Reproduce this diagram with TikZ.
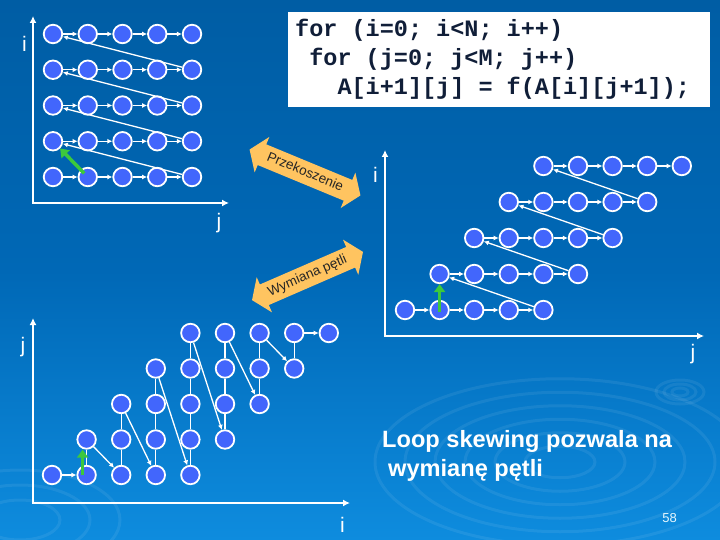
\documentclass[tikz,border=0pt]{standalone}
\usepackage{fontspec}
\setmainfont{Liberation Sans}
\newfontfamily\codefont{Liberation Mono}
\usetikzlibrary{shapes.arrows,arrows.meta}
\definecolor{bgtop}{RGB}{0,93,164}
\definecolor{bgmid}{RGB}{0,104,182}
\definecolor{bgbot}{RGB}{14,140,222}
\definecolor{cellfill}{RGB}{66,102,252}
\definecolor{depgreen}{RGB}{60,200,60}
\definecolor{arrorange}{RGB}{255,196,96}
\definecolor{codeink}{RGB}{16,30,56}
\begin{document}
\begin{tikzpicture}[x=1pt,y=-1pt,
  cell/.style={circle,draw=white,line width=1.8pt,fill=cellfill,minimum size=18.5pt,inner sep=0pt},
  flow/.style={draw=white,line width=1.3pt,-{Latex[length=5pt,width=5pt]}},
  link/.style={draw=white,line width=1.3pt},
  axis/.style={draw=white,line width=2.8pt,line cap=rect,-{Latex[length=7pt,width=7pt]}},
  dep/.style={draw=depgreen,line width=3.5pt,-{Triangle[length=8pt,width=11pt]}},
  axlabel/.style={text=white,font=\fontsize{21}{25}\selectfont,inner sep=0pt,anchor=base},
  bigarrow/.style={double arrow,fill=arrorange,draw=none,double arrow head extend=8pt,
    double arrow tip angle=110,inner xsep=2pt,inner ysep=4.5pt,text height=10pt,text depth=3pt,
    font=\fontsize{13.5}{15}\selectfont,text=black!85},
  codeline/.style={anchor=base west,inner sep=0pt,text=codeink,font=\codefont\bfseries\fontsize{23.5}{28}\selectfont}
]
\useasboundingbox (0,0) rectangle (720,540);
% background
\shade[top color=bgtop,bottom color=bgbot,middle color=bgmid] (0,0) rectangle (720,540);
\begin{scope}[white,opacity=0.07,line width=3pt]
  \foreach \rr in {35,65,95,125,155,185}
    \draw (560,462) ellipse [x radius=\rr, y radius=0.45*\rr];
  \foreach \rr in {8,16,24}
    \draw (680,392) ellipse [x radius=\rr, y radius=0.5*\rr];
  \foreach \rr in {40,70,100}
    \draw (20,520) ellipse [x radius=\rr, y radius=0.5*\rr];
\end{scope}

% code box
\node[fill=white,minimum width=422pt,minimum height=95pt,anchor=north west,inner sep=0pt] (codebox) at (288,12) {};
\node[codeline] (code1) at (295,37) {for (i=0; i<N; i++)};
\node[codeline] (code2) at (309.1,66) {for (j=0; j<M; j++)};
\node[codeline] (code3) at (337.3,95) {A[i+1][j] = f(A[i][j+1]);};

% ---------- top-left grid ----------
\coordinate (tlO) at (33,203);
\coordinate (tlI) at (33,16);
\coordinate (tlJ) at (229,203);
\draw[axis] (tlO) -- (tlJ);
\draw[axis] (tlO) -- (tlI);
\node[axlabel] (tlLi) at (24.5,52) {i};
\node[axlabel] (tlLj) at (219,229) {j};
\foreach \r in {0,...,4}
  \foreach \c in {0,...,4}
    \node[cell] (t\r\c) at ({53+34.75*\c},{177-35.75*\r}) {};
\foreach \r in {0,...,4}
  \foreach \c in {0,...,3} {
    \pgfmathtruncatemacro\nx{\c+1}
    \draw[flow] (t\r\c) -- (t\r\nx);
  }
\foreach \r in {0,...,3} {
  \pgfmathtruncatemacro\nr{\r+1}
  \draw[flow] (t\r4) -- (t\nr0);
}
\draw[dep,shorten <=5pt] (t01.center) -- (t10);

% ---------- middle arrows ----------
\node[bigarrow,rotate=-22.5,minimum height=120pt] (skew) at (305,172.5) {Przekoszenie};
\node[bigarrow,rotate=23.5,minimum height=121pt] (swap) at (307.5,276) {Wymiana pętli};

% ---------- right grid ----------
\coordinate (rgO) at (385,336);
\coordinate (rgI) at (385,150);
\coordinate (rgJ) at (704,336);
\draw[axis] (rgO) -- (rgJ);
\draw[axis] (rgO) -- (rgI);
\node[axlabel] (rgLi) at (375.5,183) {i};
\node[axlabel] (rgLj) at (693,359) {j};
\foreach \r in {0,...,4}
  \foreach \k in {0,...,4} {
    \pgfmathtruncatemacro\c{\r+\k}
    \node[cell] (g\r\c) at ({405+34.6*\c},{310-36*\r}) {};
  }
\foreach \r in {0,...,4}
  \foreach \k in {0,...,3} {
    \pgfmathtruncatemacro\c{\r+\k}
    \pgfmathtruncatemacro\nx{\r+\k+1}
    \draw[flow] (g\r\c) -- (g\r\nx);
  }
\foreach \r in {0,...,3} {
  \pgfmathtruncatemacro\c{\r+4}
  \pgfmathtruncatemacro\nr{\r+1}
  \draw[flow] (g\r\c) -- (g\nr\nr);
}
\draw[dep,shorten <=-2pt] (g01.center) -- (g11);

% ---------- bottom grid ----------
\coordinate (bgO) at (33,503);
\coordinate (bgJ) at (33,318);
\coordinate (bgI) at (350,503);
\draw[axis] (bgO) -- (bgI);
\draw[axis] (bgO) -- (bgJ);
\node[axlabel] (bgLj) at (23,352) {j};
\node[axlabel] (bgLi) at (342.5,532) {i};
\foreach \c in {0,...,8}
  \foreach \r in {0,...,4} {
    \pgfmathtruncatemacro\d{\c-\r}
    \ifnum\d>-1 \ifnum\d<5
      \node[cell] (b\c\r) at ({52+34.6*\c},{475-35.5*\r}) {};
    \fi\fi
  }
\foreach \c in {0,...,8}
  \foreach \r in {0,...,3} {
    \pgfmathtruncatemacro\d{\c-\r}
    \pgfmathtruncatemacro\nr{\r+1}
    \ifnum\d>0 \ifnum\d<5
      \draw[link] (b\c\r) -- (b\c\nr);
    \fi\fi
  }
\foreach \c in {0,...,7} {
  \pgfmathtruncatemacro\tp{min(4,\c)}
  \pgfmathtruncatemacro\nc{\c+1}
  \pgfmathtruncatemacro\bt{max(0,\c-3)}
  \draw[flow] (b\c\tp) -- (b\nc\bt);
}
\draw[dep] ([xshift=-4pt]b10.center) -- ([xshift=-4pt]b11.south);

% ---------- texts ----------
\node[anchor=base west,inner sep=0pt,text=white,font=\bfseries\fontsize{23.6}{29}\selectfont] (msg1) at (382,447) {Loop skewing pozwala na};
\node[anchor=base west,inner sep=0pt,text=white,font=\bfseries\fontsize{23.6}{29}\selectfont] (msg2) at (388,476) {wymianę pętli};
\node[anchor=base,inner sep=0pt,text=white!90!cyan,font=\fontsize{13}{15}\selectfont] (pagenum) at (669.5,522) {58};
\end{tikzpicture}
\end{document}
